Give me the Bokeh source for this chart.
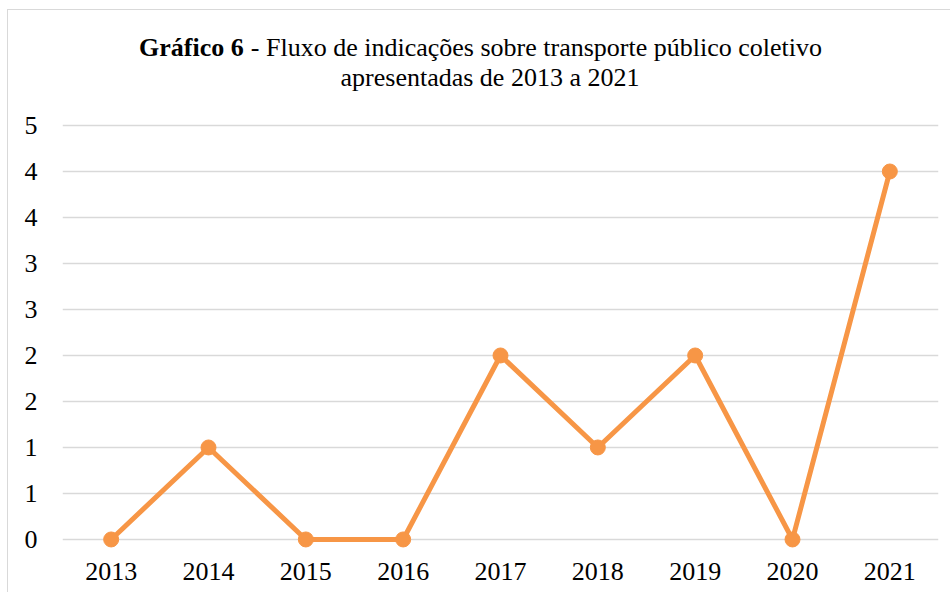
from bokeh.plotting import figure
from bokeh.models import FactorRange, Range1d, FixedTicker
from bokeh.core.properties import value
from bokeh.embed import file_html
from bokeh.resources import INLINE

years = ["2013", "2014", "2015", "2016", "2017", "2018", "2019", "2020", "2021"]
values = [0, 1, 0, 0, 2, 1, 2, 0, 4]
y_ticks = [0, 0.5, 1, 1.5, 2, 2.5, 3, 3.5, 4, 4.5]
y_tick_labels = ["0", "1", "1", "2", "2", "3", "3", "4", "4", "5"]
title_bold = "Gráfico 6"
title_rest = "- Fluxo de indicações sobre transporte público coletivo"
title_line2 = "apresentadas de 2013 a 2021"

FONT = "Liberation Serif"
ORANGE = "#F79646"

p = figure(width=943, height=583, x_range=FactorRange(*years, range_padding=0),
           y_range=Range1d(-0.12, 5.75), output_backend="svg", toolbar_location=None,
           min_border_left=54, min_border_right=13, min_border_top=0, min_border_bottom=43)
p.styles = {"margin-left": "7px", "margin-top": "9px",
            "border-left": "1px solid #d9d9d9", "border-top": "1px solid #d9d9d9"}
p.outline_line_color = None
p.background_fill_color = "white"
p.border_fill_color = "white"

p.line(years, values, line_color=ORANGE, line_width=5)
p.scatter(years, values, size=15, fill_color=ORANGE, line_color=ORANGE)

p.xgrid.grid_line_color = None
p.ygrid.grid_line_color = "#D9D9D9"
p.ygrid.grid_line_width = 1.5
p.yaxis.ticker = FixedTicker(ticks=y_ticks)
p.yaxis.major_label_overrides = {t: l for t, l in zip(y_ticks, y_tick_labels)}

for ax in (p.xaxis[0], p.yaxis[0]):
    ax.axis_line_color = None
    ax.major_tick_line_color = None
    ax.minor_tick_line_color = None
    ax.major_tick_out = 0
    ax.major_tick_in = 0
    ax.major_label_text_font = FONT
    ax.major_label_text_font_size = "26px"
    ax.major_label_text_color = "#000000"
p.yaxis.major_label_standoff = 25
p.xaxis.major_label_standoff = 12

# Title drawn as text inside the (extended) frame
p.text(x=[1.862], y=[5.348], text=[title_bold], text_font=value(FONT), text_font_style="bold",
       text_font_size="26px", text_align="right", text_baseline="alphabetic", text_color="#000000")
p.text(x=[1.935], y=[5.348], text=[title_rest], text_font=value(FONT),
       text_font_size="26px", text_align="left", text_baseline="alphabetic", text_color="#000000")
p.text(x=[4.392], y=[5.022], text=[title_line2], text_font=value(FONT),
       text_font_size="26px", text_align="center", text_baseline="alphabetic", text_color="#000000")

open("out.html", "w").write(file_html(p, INLINE))
